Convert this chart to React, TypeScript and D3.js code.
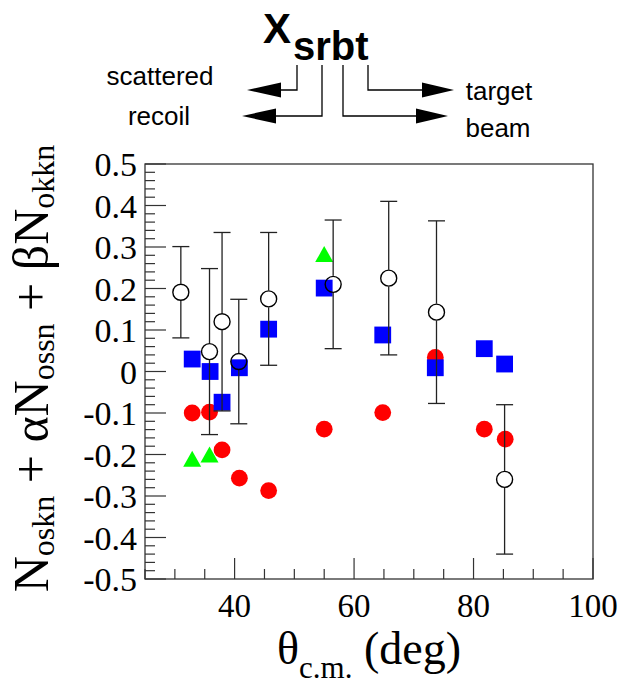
import React from "react";
import * as d3 from "d3";

// ---- data ----
const openX = [31.0, 35.8, 37.9, 40.7, 45.7, 56.5, 65.8, 73.8, 85.2];
const openY = [0.191, 0.048, 0.12, 0.024, 0.175, 0.21, 0.225, 0.143, -0.26];
const openErr = [0.11, 0.2, 0.215, 0.15, 0.16, 0.155, 0.185, 0.22, 0.18];

const blueX = [32.9, 35.9, 37.9, 40.8, 45.7, 55.0, 64.8, 73.6, 81.8, 85.2];
const blueY = [0.03, 0.0, -0.074, 0.009, 0.102, 0.201, 0.088, 0.009, 0.055, 0.018];

const redX = [32.9, 35.8, 37.9, 40.8, 45.7, 55.0, 64.8, 73.6, 81.8, 85.3];
const redY = [-0.1, -0.098, -0.189, -0.257, -0.287, -0.139, -0.099, 0.034, -0.139, -0.163];

const greenX = [32.9, 35.8, 55.0];
const greenY = [-0.21, -0.2, 0.283];

const xMajorTicks = [40, 60, 80, 100];
const yMajorTicks = [-0.5, -0.4, -0.3, -0.2, -0.1, 0, 0.1, 0.2, 0.3, 0.4, 0.5];
const yTickLabels = ["-0.5", "-0.4", "-0.3", "-0.2", "-0.1", "0", "0.1", "0.2", "0.3", "0.4", "0.5"];

const W = 624;
const H = 680;
const L = 145, R = 593, T = 164, B = 579;

export default function App() {
  const x = d3.scaleLinear().domain([25, 100]).range([L, R]);
  const y = d3.scaleLinear().domain([-0.5, 0.5]).range([B, T]);

  const xMinor = d3.range(25, 100.01, 5).filter((v) => !xMajorTicks.includes(v));
  const yMinor = d3.range(-50, 51, 2).map((v) => v / 100).filter((v) => Math.abs(Math.round(v * 10) - v * 10) > 1e-6);

  const serif = "'Liberation Serif', 'Times New Roman', serif";
  const sans = "'Liberation Sans', Arial, sans-serif";
  const axisColor = "#333";
  const ms = 8.4; // marker half-size
  const cap = 8.5;

  const triPath = "M0,-8 L9,8 L-9,8 Z";

  return (
    <svg width={W} height={H} style={{ position: "absolute", left: 0, top: 0, background: "#fff" }}>
      <rect x={0} y={0} width={W} height={H} fill="#fff" />

      {/* top diagram */}
      <g fontFamily={sans} fill="#000">
        <text x={263} y={43} fontSize={42} fontWeight="bold">X</text>
        <text x={293} y={60} fontSize={40} fontWeight="bold">srbt</text>
        <text x={160} y={85} fontSize={26} textAnchor="middle">scattered</text>
        <text x={159} y={125} fontSize={26} textAnchor="middle">recoil</text>
        <text x={499} y={100} fontSize={26} textAnchor="middle">target</text>
        <text x={498} y={137} fontSize={26} textAnchor="middle">beam</text>
      </g>
      <g stroke="#000" strokeWidth={1.3} fill="none">
        <path d="M297,65 V90 H280" />
        <path d="M322,65 V116 H275" />
        <path d="M343,65 V116 H417" />
        <path d="M368,65 V90 H423" />
      </g>
      <g fill="#000">
        <path d="M247,90 L281,82.5 L281,97.5 Z" />
        <path d="M242,116 L276,108.5 L276,123.5 Z" />
        <path d="M448,116 L416,108.5 L416,123.5 Z" />
        <path d="M454,90 L422,82.5 L422,97.5 Z" />
      </g>

      {/* frame */}
      <rect x={L} y={T} width={R - L} height={B - T} fill="none" stroke={axisColor} strokeWidth={1.3} />

      {/* ticks */}
      <g stroke={axisColor} strokeWidth={1.2}>
        {yMajorTicks.map((v) => (
          <line key={"ym" + v} x1={L} x2={L + 21} y1={y(v)} y2={y(v)} />
        ))}
        {yMinor.map((v) => (
          <line key={"yn" + v} x1={L} x2={L + 10} y1={y(v)} y2={y(v)} />
        ))}
        {xMajorTicks.map((v) => (
          <line key={"xm" + v} x1={x(v)} x2={x(v)} y1={B} y2={B - 21} />
        ))}
        {xMinor.map((v) => (
          <line key={"xn" + v} x1={x(v)} x2={x(v)} y1={B} y2={B - 10} />
        ))}
      </g>

      {/* tick labels */}
      <g fontFamily={serif} fontSize={34} fill="#000">
        {yMajorTicks.map((v, i) => (
          <text key={"yl" + v} x={L - 8} y={y(v) + 12} textAnchor="end">
            {yTickLabels[i]}
          </text>
        ))}
        {xMajorTicks.map((v) => (
          <text key={"xl" + v} x={x(v)} y={617} textAnchor="middle" fontSize={33}>
            {String(v)}
          </text>
        ))}
      </g>

      {/* axis titles */}
      <text x={(L + R) / 2} y={664} textAnchor="middle" fontFamily={serif} fontSize={46} fill="#000">
        θ<tspan fontSize={31} dy={14}>c.m.</tspan>
        <tspan dy={-14}> (deg)</tspan>
      </text>
      <text
        transform={`translate(48, ${(T + B) / 2 - 3}) rotate(-90)`}
        textAnchor="middle"
        fontFamily={serif}
        fontSize={50}
        fill="#000"
      >
        N<tspan fontSize={32} dy={6}>oskn</tspan>
        <tspan dy={-6}> + αN</tspan>
        <tspan fontSize={32} dy={6}>ossn</tspan>
        <tspan dy={-6}> + βN</tspan>
        <tspan fontSize={32} dy={6}>okkn</tspan>
      </text>

      {/* red circles */}
      <g fill="#ff0000">
        {redX.map((v, i) => (
          <circle key={"r" + i} cx={x(v)} cy={y(redY[i])} r={ms} />
        ))}
      </g>
      {/* green triangles */}
      <g fill="#00ff00">
        {greenX.map((v, i) => (
          <path key={"g" + i} d={triPath} transform={`translate(${x(v)},${y(greenY[i])})`} />
        ))}
      </g>
      {/* blue squares */}
      <g fill="#0000ff">
        {blueX.map((v, i) => (
          <rect key={"b" + i} x={x(v) - ms} y={y(blueY[i]) - ms} width={2 * ms} height={2 * ms} />
        ))}
      </g>
      {/* error bars */}
      <g stroke="#222" strokeWidth={1.3}>
        {openX.map((v, i) => {
          const cx = x(v);
          const cy = y(openY[i]);
          const yt = y(openY[i] + openErr[i]);
          const yb = y(openY[i] - openErr[i]);
          return (
            <g key={"e" + i}>
              <line x1={cx} x2={cx} y1={yt} y2={cy - 8.5} />
              <line x1={cx} x2={cx} y1={cy + 8.5} y2={yb} />
              <line x1={cx - cap} x2={cx + cap} y1={yt} y2={yt} />
              <line x1={cx - cap} x2={cx + cap} y1={yb} y2={yb} />
            </g>
          );
        })}
      </g>
      {/* open circles */}
      <g fill="none" stroke="#000" strokeWidth={1.4}>
        {openX.map((v, i) => (
          <circle key={"o" + i} cx={x(v)} cy={y(openY[i])} r={8} />
        ))}
      </g>
    </svg>
  );
}
